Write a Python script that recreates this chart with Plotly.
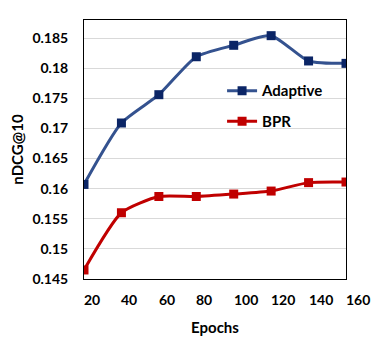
import plotly.graph_objects as go

epochs = [20, 40, 60, 80, 100, 120, 140, 160]
adaptive = [0.1607, 0.1709, 0.1756, 0.1819, 0.1838, 0.1854, 0.1812, 0.1808]
bpr = [0.1465, 0.1560, 0.1587, 0.1587, 0.1591, 0.1596, 0.1610, 0.1611]
y_ticks = [0.145, 0.15, 0.155, 0.16, 0.165, 0.17, 0.175, 0.18, 0.185]
y_labels = ['0.145', '0.15', '0.155', '0.16', '0.165', '0.17', '0.175', '0.18', '0.185']

font_name = "Lato"

fig = go.Figure()

fig.add_trace(go.Scatter(
    x=epochs, y=adaptive, name='Adaptive', legendgroup='a',
    mode='lines+markers',
    line=dict(color='#34528F', width=3, shape='spline', smoothing=0.6),
    marker=dict(symbol='square', size=9, color='#0B2566'),
))
fig.add_trace(go.Scatter(
    x=epochs, y=bpr, name='BPR', legendgroup='b',
    mode='lines+markers',
    line=dict(color='#C00000', width=3, shape='spline', smoothing=0.6),
    marker=dict(symbol='square', size=9, color='#C00000'),
))

# x tick labels sit left-aligned at each point, like the original
annotations = []
for e in epochs:
    annotations.append(dict(
        x=e, y=0, xref='x', yref='paper', text=str(e), showarrow=False,
        xanchor='left', yanchor='middle', yshift=-20, xshift=-2,
        font=dict(family=font_name, size=14, color='black', weight='bold'),
    ))

# page body adds an 8px margin, so the figure is sized a little smaller
fig.update_layout(
    width=374, height=337,
    margin=dict(l=76, r=36, t=12, b=66),
    paper_bgcolor='white', plot_bgcolor='white',
    font=dict(family=font_name, size=14, color='black', weight='bold'),
    annotations=annotations,
    legend=dict(
        x=0.527, y=0.79, xanchor='left', yanchor='top',
        bgcolor='rgba(0,0,0,0)', tracegroupgap=8,
        traceorder='grouped',
        font=dict(family=font_name, size=15, color='black', weight='bold'),
    ),
    xaxis=dict(
        range=[20, 160], showticklabels=False, ticks='', automargin=False,
        showgrid=False, zeroline=False,
        showline=True, linecolor='black', linewidth=1, mirror=True,
        title=dict(text='Epochs', standoff=43,
                   font=dict(family=font_name, size=15, color='black', weight='bold')),
    ),
    yaxis=dict(
        range=[0.145, 0.188], tickvals=y_ticks, ticktext=y_labels, automargin=False,
        showgrid=True, gridcolor='#D9D9D9', gridwidth=1, zeroline=False,
        showline=True, linecolor='black', linewidth=1, mirror=True,
        ticks='', ticklabelstandoff=12,
        tickfont=dict(family=font_name, size=14, color='black', weight='bold'),
        title=dict(text='nDCG@10', standoff=6,
                   font=dict(family=font_name, size=15, color='black', weight='bold')),
    ),
)

fig.write_html("out.html")
